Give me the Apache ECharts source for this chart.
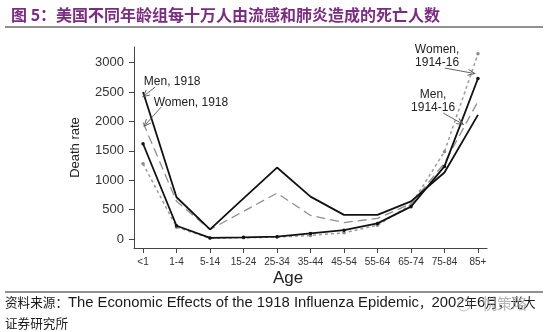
<!DOCTYPE html>
<html>
<head>
<meta charset="utf-8">
<script src="https://cdn.jsdelivr.net/npm/echarts@6/dist/echarts.min.js"></script>
<style>
  html, body { margin: 0; padding: 0; background: #fff; }
  #chart { width: 550px; height: 332px; }
</style>
</head>
<body>
<div id="chart"></div>
<script>
// Age groups along the horizontal axis
const categories = ['<1', '1-4', '5-14', '15-24', '25-34', '35-44', '45-54', '55-64', '65-74', '75-84', '85+'];

// Deaths from influenza and pneumonia per 100,000 people
const men1918     = [2500, 710, 165, 690, 1215, 720, 410, 410, 640, 1130, 2110];
const women1918   = [1980, 640, 160, 470, 780, 400, 280, 350, 600, 1290, 2340];
const men1914_16  = [1620, 225, 18, 28, 40, 95, 150, 265, 550, 1235, 2730];
const women1914_16 = [1280, 200, 15, 22, 32, 60, 105, 235, 580, 1485, 3150];

// Tick labels on the vertical axis
const yTicks = [0, 500, 1000, 1500, 2000, 2500, 3000];

const toPoints = arr => arr.map((v, i) => [i, v]);
const idx = categories.map((_, i) => i);

const arrowHead = 'path://M5,0 L10,10 L8.6,10 L5,3.2 L1.4,10 L0,10 Z';
const noteFont = { fontFamily: 'Liberation Sans, Arial, sans-serif', fontSize: 12, color: '#222', lineHeight: 13 };

const arrow = (from, to) => [{ coord: from }, { coord: to }];
const note = (text, coord) => ({
  coord: coord,
  symbolSize: 0,
  label: Object.assign({ show: true, position: 'inside', formatter: text, align: 'center' }, noteFont)
});

const chart = echarts.init(document.getElementById('chart'), null, { renderer: 'canvas' });

chart.setOption({
  animation: false,
  backgroundColor: '#fff',
  title: {
    text: '图 5：美国不同年龄组每十万人由流感和肺炎造成的死亡人数',
    left: 6,
    top: 2,
    textStyle: {
      fontFamily: 'Noto Sans CJK SC',
      fontSize: 16,
      fontWeight: 'bold',
      color: '#7B2B83'
    }
  },
  grid: { left: 134, right: 63, top: 47, bottom: 84 },
  xAxis: {
    type: 'value',
    min: -0.27,
    max: 10.27,
    axisLine: { show: true, onZero: false, lineStyle: { color: '#444', width: 1 } },
    axisTick: { show: true, customValues: idx, length: 5, lineStyle: { color: '#444' } },
    axisLabel: {
      customValues: idx,
      formatter: v => categories[Math.round(v)],
      fontFamily: 'Liberation Sans, Arial',
      fontSize: 10,
      color: '#333',
      margin: 9
    },
    splitLine: { show: false }
  },
  yAxis: {
    type: 'value',
    min: -153,
    max: 3265,
    name: 'Death rate',
    nameLocation: 'middle',
    nameGap: 52,
    nameTextStyle: { fontFamily: 'Liberation Sans, Arial', fontSize: 13, color: '#222' },
    axisLine: { show: true, onZero: false, lineStyle: { color: '#444', width: 1 } },
    axisTick: { show: true, customValues: yTicks, length: 5, lineStyle: { color: '#444' } },
    axisLabel: {
      customValues: yTicks,
      formatter: v => String(v),
      fontFamily: 'Liberation Sans, Arial',
      fontSize: 13,
      color: '#333',
      margin: 10
    },
    splitLine: { show: false }
  },
  series: [
    {
      name: 'Women, 1914-16',
      type: 'line',
      data: toPoints(women1914_16),
      symbol: 'circle',
      symbolSize: 3.5,
      itemStyle: { color: '#8a8a8a' },
      lineStyle: { color: '#9a9a9a', width: 1.5, type: [3, 3] },
      z: 2
    },
    {
      name: 'Women, 1918',
      type: 'line',
      data: toPoints(women1918),
      showSymbol: false,
      lineStyle: { color: '#8f8f8f', width: 1.3, type: [9, 5] },
      z: 2
    },
    {
      name: 'Men, 1914-16',
      type: 'line',
      data: toPoints(men1914_16),
      symbol: 'circle',
      symbolSize: 3.5,
      itemStyle: { color: '#111' },
      lineStyle: { color: '#111', width: 1.8 },
      z: 3
    },
    {
      name: 'Men, 1918',
      type: 'line',
      data: toPoints(men1918),
      showSymbol: false,
      lineStyle: { color: '#111', width: 1.8 },
      z: 3,
      markLine: {
        silent: true,
        symbol: ['none', arrowHead],
        symbolSize: [7, 8],
        label: { show: false },
        lineStyle: { color: '#555', width: 0.9, type: 'solid' },
        data: [
          arrow([0.36, 2584], [0.06, 2448]),
          arrow([0.54, 2244], [0.09, 1955]),
          arrow([9.01, 2907], [9.82, 2822]),
          arrow([8.96, 2142], [9.49, 1972])
        ]
      },
      markPoint: {
        silent: true,
        symbol: 'circle',
        itemStyle: { color: 'transparent' },
        data: [
          note('Men, 1918', [0.87, 2669]),
          note('Women, 1918', [1.43, 2312]),
          note('Women,\n1914-16', [8.78, 3103]),
          note('Men,\n1914-16', [8.66, 2338])
        ]
      }
    }
  ],
  graphic: [
    // axis title under the age groups
    {
      type: 'text', left: 273, top: 270,
      style: { text: 'Age', font: '17px "Liberation Sans", Arial, sans-serif', fill: '#222' }
    },
    { type: 'line', shape: { x1: 5, y1: 27, x2: 543, y2: 27 }, style: { stroke: '#222', lineWidth: 1 } },
    { type: 'line', shape: { x1: 5, y1: 292, x2: 543, y2: 292 }, style: { stroke: '#222', lineWidth: 1 } },
    {
      type: 'text', left: 5, top: 295,
      style: {
        text: '{zh|资料来源：}{en|The Economic Effects of the 1918 Influenza Epidemic}{zh|，}{en|2002}{zh|年}{en|6}{zh|月，光大}',
        rich: {
          zh: { font: '12.6px "Noto Sans CJK SC", sans-serif', fill: '#1a1a1a', height: 16 },
          en: { font: '14.8px "Liberation Sans", Arial, sans-serif', fill: '#1a1a1a', height: 16 }
        }
      }
    },
    {
      type: 'text', left: 5, top: 317,
      style: {
        text: '证券研究所',
        font: '12.6px "Noto Sans CJK SC", sans-serif',
        fill: '#1a1a1a'
      }
    },
    {
      type: 'text', left: 482, top: 296,
      style: {
        text: '悦策略',
        font: '15px "Noto Sans CJK SC", sans-serif',
        fill: 'rgba(165,165,165,0.8)'
      }
    },
    {
      type: 'circle', shape: { cx: 464, cy: 305, r: 6 },
      style: { fill: 'none', stroke: 'rgba(170,170,170,0.7)', lineWidth: 1 }
    }
  ]
});
</script>
</body>
</html>
